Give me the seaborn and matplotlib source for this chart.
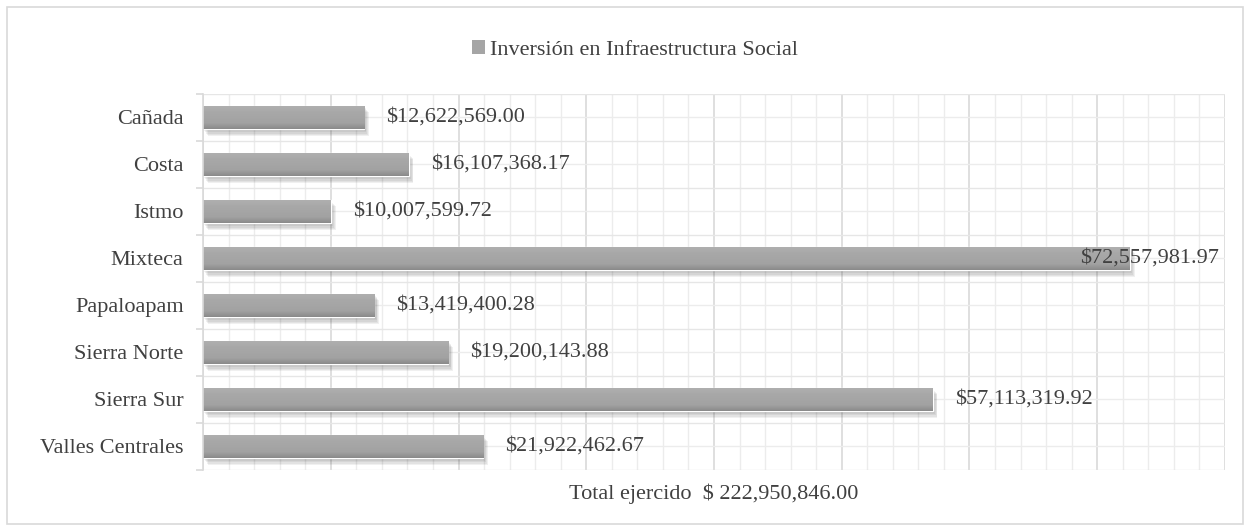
import matplotlib
matplotlib.use("Agg")
import matplotlib.pyplot as plt
import matplotlib.patheffects as pe
from matplotlib.colors import LinearSegmentedColormap
from matplotlib.patches import Rectangle, Patch
from matplotlib.ticker import MultipleLocator
import numpy as np
import pandas as pd
import seaborn as sns

# datos
regiones = ["Cañada", "Costa", "Istmo", "Mixteca", "Papaloapam",
            "Sierra Norte", "Sierra Sur", "Valles Centrales"]
inversion = [12622569.00, 16107368.17, 10007599.72, 72557981.97,
             13419400.28, 19200143.88, 57113319.92, 21922462.67]
etiquetas = ["$12,622,569.00", "$16,107,368.17", "$10,007,599.72",
             "$72,557,981.97", "$13,419,400.28", "$19,200,143.88",
             "$57,113,319.92", "$21,922,462.67"]
serie = "Inversión en Infraestructura Social"
titulo_x = "Total ejercido  $ 222,950,846.00"

TXT = "#404040"
GRIS = "#a5a5a5"

sns.set_theme(style="white")
plt.rcParams["font.family"] = ["Liberation Serif", "DejaVu Serif"]
plt.rcParams["font.size"] = 16

df = pd.DataFrame({"region": regiones, "inversion": inversion})

fig = plt.figure(figsize=(12.5, 5.31), dpi=100)
ax = fig.add_axes([0.1624, 0.115, 0.8176, 0.708])

sns.barplot(data=df, x="inversion", y="region", orient="h", color=GRIS,
            width=0.5, saturation=1, ax=ax)

# degradado y sombra difusa en cada barra
cmap = LinearSegmentedColormap.from_list(
    "g", [(0, "#b0b0b0"), (0.3, "#a8a8a8"), (0.75, "#a2a2a2"), (1, "#8a8a8a")])
grad = np.linspace(0, 1, 64).reshape(-1, 1)
sombra = [pe.SimplePatchShadow(offset=(1 + k * 0.6, -1.5 - k * 0.8), alpha=0.07)
          for k in range(5)]
for p in ax.patches:
    p.set_path_effects(sombra + [pe.Normal()])
    x0, y0 = p.get_x(), p.get_y()
    w, h = p.get_width(), p.get_height()
    im = ax.imshow(grad, cmap=cmap, aspect="auto", origin="upper",
                   extent=(x0, x0 + w, y0 + h, y0), zorder=p.get_zorder() + 0.1)
    im.set_clip_path(p)

ax.set_xlim(0, 80e6)
ax.set_ylim(7.5, -0.5)

# etiquetas de valor
xmax = ax.get_xlim()[1]
for i, (v, t) in enumerate(zip(inversion, etiquetas)):
    if v > 0.85 * xmax:
        ax.annotate(t, (xmax, i), xytext=(-6, 0), textcoords="offset pixels",
                    ha="right", va="center", color=TXT, fontsize=16, zorder=5)
    else:
        ax.annotate(t, (v, i), xytext=(22, 0), textcoords="offset pixels",
                    ha="left", va="center", color=TXT, fontsize=16, zorder=5)

# rejilla
ax.xaxis.set_major_locator(MultipleLocator(10e6))
ax.xaxis.set_minor_locator(MultipleLocator(2e6))
ax.set_yticks(range(len(regiones)))
ax.set_yticklabels(regiones)
ax.set_yticks(np.arange(-0.5, len(regiones), 1), minor=True)
ax.grid(True, which="major", axis="x", color="#d9d9d9", lw=1.2)
ax.grid(True, which="minor", axis="x", color="#ececec", lw=1.0)
ax.grid(True, which="major", axis="y", color="#ececec", lw=1.0)
ax.grid(True, which="minor", axis="y", color="#e6e6e6", lw=1.0)
ax.set_axisbelow(True)
ax.tick_params(axis="x", which="both", length=0, labelbottom=False)
ax.tick_params(axis="y", which="major", length=0, pad=14, labelcolor=TXT, labelsize=16)
ax.tick_params(axis="y", which="minor", length=5, color="#d9d9d9", width=1.2, left=True)

for s in ["top", "right", "bottom"]:
    ax.spines[s].set_visible(False)
ax.spines["left"].set_color("#d9d9d9")
ax.spines["left"].set_linewidth(1.2)

ax.set_ylabel("")
ax.set_xlabel(titulo_x, color=TXT, fontsize=16, labelpad=10)

fig.legend(handles=[Patch(facecolor=GRIS, edgecolor="none", label=serie)],
           loc="center", bbox_to_anchor=(0.508, 0.906), frameon=False,
           handlelength=0.6, handleheight=0.6, handletextpad=0.2,
           fontsize=16, labelcolor=TXT)

# marco exterior
fig.patches.append(Rectangle((7 / 1250, 7 / 531), 1236 / 1250, 517 / 531,
                             transform=fig.transFigure, fill=False,
                             edgecolor="#d9d9d9", lw=1.2))

fig.savefig("out.png", dpi=100)
